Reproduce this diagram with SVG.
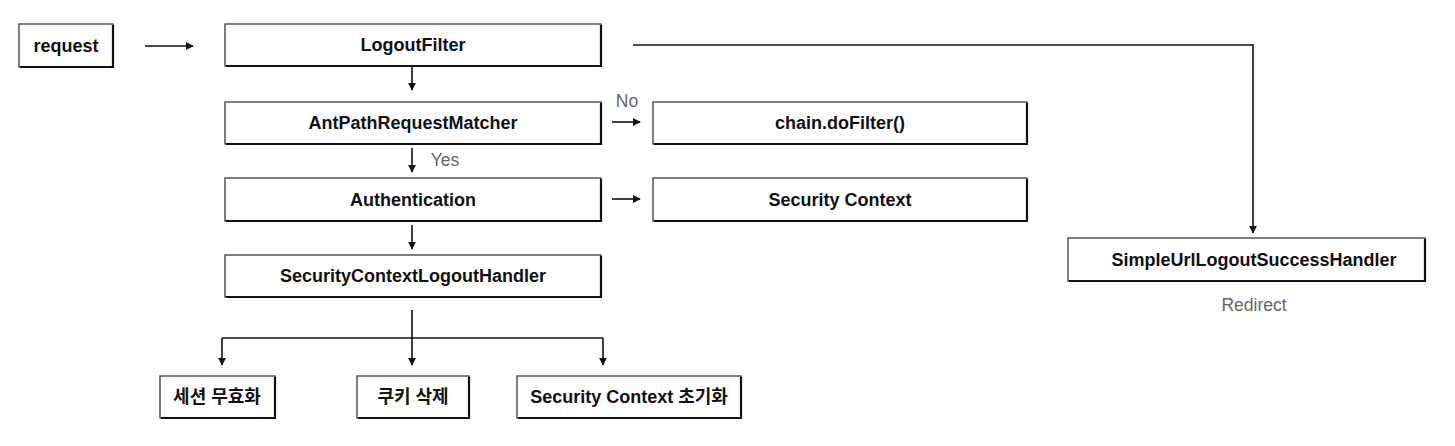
<svg xmlns="http://www.w3.org/2000/svg" width="1455" height="446" viewBox="0 0 1455 446">
<style>
.box{fill:#fff;stroke:#3a3a3a;stroke-width:1.3}
.sh{fill:none;stroke:#111;stroke-width:2.2}
.t{font-family:"Liberation Sans","Noto Sans CJK KR",sans-serif;font-size:18px;font-weight:bold;fill:#111;text-anchor:middle;dominant-baseline:central}
.lbl{font-family:"Liberation Sans",sans-serif;font-size:17.5px;fill:#666;text-anchor:middle;dominant-baseline:central}
.c{fill:none;stroke:#111;stroke-width:1.6}
</style>
<defs>
<marker id="ah" viewBox="0 0 10 10" refX="9" refY="5" markerWidth="8" markerHeight="8" markerUnits="userSpaceOnUse" orient="auto">
<path d="M0,0 L10,5 L0,10 z" fill="#111"/>
</marker>
</defs>
<g id="n-request"><rect class="box" x="19" y="24" width="94" height="43"/><path class="sh" d="M113,25 V67 H20"/><text class="t" x="66" y="45.5">request</text></g>
<g id="n-logoutfilter"><rect class="box" x="225" y="24" width="376" height="42"/><path class="sh" d="M601,25 V66 H226"/><text class="t" x="413" y="45">LogoutFilter</text></g>
<g id="n-antpath"><rect class="box" x="225" y="102" width="376" height="42"/><path class="sh" d="M601,103 V144 H226"/><text class="t" x="413" y="123">AntPathRequestMatcher</text></g>
<g id="n-dofilter"><rect class="box" x="653" y="102" width="374" height="42"/><path class="sh" d="M1027,103 V144 H654"/><text class="t" x="840" y="123">chain.doFilter()</text></g>
<g id="n-auth"><rect class="box" x="225" y="178" width="376" height="43"/><path class="sh" d="M601,179 V221 H226"/><text class="t" x="413" y="199.5">Authentication</text></g>
<g id="n-secctx"><rect class="box" x="653" y="178" width="374" height="43"/><path class="sh" d="M1027,179 V221 H654"/><text class="t" x="840" y="199.5">Security Context</text></g>
<g id="n-scl"><rect class="box" x="225" y="255" width="376" height="42"/><path class="sh" d="M601,256 V297 H226"/><text class="t" x="413" y="276">SecurityContextLogoutHandler</text></g>
<g id="n-simple"><rect class="box" x="1068" y="238" width="357" height="43"/><path class="sh" d="M1425,239 V281 H1069"/><text class="t" x="1254" y="259.5">SimpleUrlLogoutSuccessHandler</text></g>
<g id="n-session"><rect class="box" x="160" y="376" width="115" height="42"/><path class="sh" d="M275,377 V418 H161"/><text class="t" x="217" y="397">세션 무효화</text></g>
<g id="n-cookie"><rect class="box" x="357" y="376" width="112" height="42"/><path class="sh" d="M469,377 V418 H358"/><text class="t" x="413" y="397">쿠키 삭제</text></g>
<g id="n-init"><rect class="box" x="517" y="376" width="224" height="42"/><path class="sh" d="M741,377 V418 H518"/><text class="t" x="629" y="397">Security Context 초기화</text></g>
<g id="connectors">
<path class="c" d="M145,46 H193" marker-end="url(#ah)"/>
<path class="c" d="M412,67 V90" marker-end="url(#ah)"/>
<path class="c" d="M633,45 H1253 V233" marker-end="url(#ah)"/>
<path class="c" d="M612,122 H640" marker-end="url(#ah)"/>
<path class="c" d="M412,148 V172" marker-end="url(#ah)"/>
<path class="c" d="M612,199 H640" marker-end="url(#ah)"/>
<path class="c" d="M412,225 V249" marker-end="url(#ah)"/>
<path class="c" d="M412,310 V338"/>
<path class="c" d="M222,338 H603"/>
<path class="c" d="M222,338 V365" marker-end="url(#ah)"/>
<path class="c" d="M412,338 V365" marker-end="url(#ah)"/>
<path class="c" d="M603,338 V365" marker-end="url(#ah)"/>
<text class="lbl" x="627" y="101">No</text>
<text class="lbl" x="445" y="160">Yes</text>
<text class="lbl" x="1254" y="305">Redirect</text>
</g>
</svg>
